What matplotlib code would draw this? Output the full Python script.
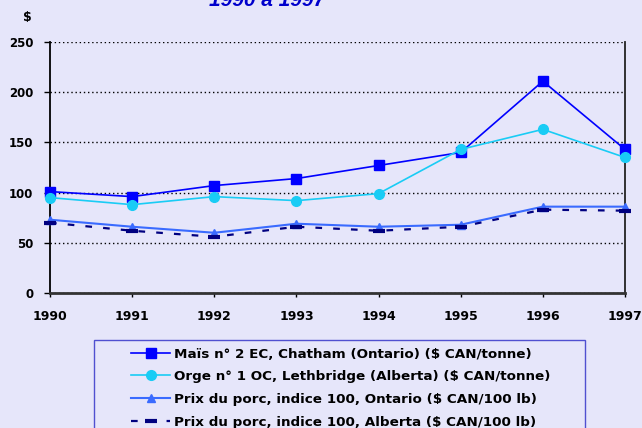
import matplotlib
matplotlib.use("Agg")
import matplotlib.pyplot as plt
from matplotlib.patches import Rectangle

years = [1990, 1991, 1992, 1993, 1994, 1995, 1996, 1997]
mais = [101, 96, 107, 114, 127, 140, 211, 143]
orge = [95, 88, 96, 92, 99, 143, 163, 135]
porc_ontario = [73, 66, 60, 69, 66, 68, 86, 86]
porc_alberta = [70, 62, 56, 66, 62, 66, 83, 82]
labels = [
    "Maïs n° 2 EC, Chatham (Ontario) ($ CAN/tonne)",
    "Orge n° 1 OC, Lethbridge (Alberta) ($ CAN/tonne)",
    "Prix du porc, indice 100, Ontario ($ CAN/100 lb)",
    "Prix du porc, indice 100, Alberta ($ CAN/100 lb)",
]
yticks = [0, 50, 100, 150, 200, 250]
title = "1990 à 1997"

bg = "#E6E6FA"
W, H = 642, 428
fig = plt.figure(figsize=(6.42, 4.28), dpi=100, facecolor=bg)
ax = fig.add_axes([50/W, 1-293/H, 575/W, 251/H], facecolor=bg)

font = "DejaVu Sans"
ax.plot(years, mais, color="#0000FF", lw=1.2, marker="s", ms=6.5,
        label=labels[0], clip_on=False, zorder=4)
ax.plot(years, orge, color="#19CCF5", lw=1.2, marker="o", ms=7,
        label=labels[1], clip_on=False, zorder=5)
ax.plot(years, porc_ontario, color="#3A6BFF", lw=1.5, marker="^", ms=6,
        label=labels[2], clip_on=False, zorder=4)
ax.plot(years, porc_alberta, color="#000080", lw=1.6, ls=(0, (3, 5)),
        marker="_", ms=9, mew=3, label=labels[3], clip_on=False, zorder=5)

ax.set_xlim(1990, 1997)
ax.set_ylim(0, 250)
ax.set_yticks(yticks)
ax.set_xticks(years)
ax.yaxis.grid(True, color="black", ls=(0, (1, 2)), lw=1)
ax.set_axisbelow(True)

ax.spines["top"].set_visible(False)
ax.spines["left"].set_color("black")
ax.spines["left"].set_linewidth(1.3)
ax.spines["right"].set_color("#222222")
ax.spines["right"].set_linewidth(1.3)
ax.spines["bottom"].set_color("#333333")
ax.spines["bottom"].set_linewidth(2)

ax.tick_params(axis="y", direction="out", length=4, width=1, pad=8,
               labelsize=8.5)
ax.tick_params(axis="x", direction="out", length=3, width=1, pad=9,
               labelsize=9)
for t in ax.get_xticklabels() + ax.get_yticklabels():
    t.set_fontweight("bold")
    t.set_family(font)

fig.text(27/W, 1-17/H, "$", fontsize=9, fontweight="bold",
         family=font, ha="center", va="center")
fig.text(267/W, 1-6.5/H, title, fontsize=15, fontweight="bold",
         style="italic", color="#0000CC", family="Liberation Sans",
         ha="center", va="baseline")

# legend frame
fig.patches.append(Rectangle((94/W, -0.05), (585-94)/W, 1-339.5/H + 0.05,
                             transform=fig.transFigure, facecolor=bg,
                             edgecolor="#5050D0", lw=1, zorder=1))

leg = fig.legend(loc="upper left", bbox_to_anchor=(131/W, 1-347.5/H),
                 frameon=False, handlelength=2.9, handletextpad=0.3,
                 borderpad=0, labelspacing=0.72, borderaxespad=0,
                 prop={"family": font, "weight": "bold", "size": 9.7})

fig.savefig("out.png", dpi=100, facecolor=bg)
